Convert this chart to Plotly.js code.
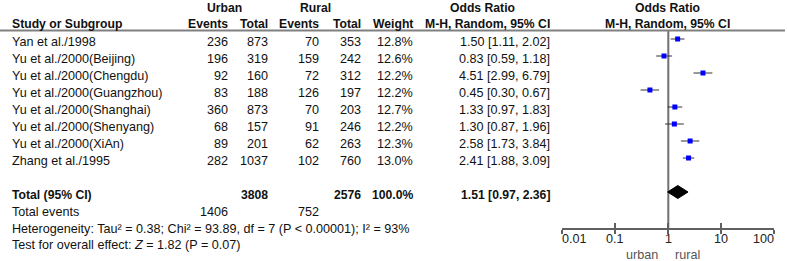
<!DOCTYPE html>
<html>
<head>
<meta charset="utf-8">
<script src="https://cdn.plot.ly/plotly-3.0.1.min.js"></script>
<style>html,body{margin:0;padding:0;background:#fff;}#chart{width:787px;height:261px;}</style>
</head>
<body>
<div id="chart"></div>
<script>
// ---- data ----
var studies = ["Yan et al./1998","Yu et al./2000(Beijing)","Yu et al./2000(Chengdu)","Yu et al./2000(Guangzhou)","Yu et al./2000(Shanghai)","Yu et al./2000(Shenyang)","Yu et al./2000(XiAn)","Zhang et al./1995"];
var urbanEvents = [236,196,92,83,360,68,89,282];
var urbanTotal = [873,319,160,188,873,157,201,1037];
var ruralEvents = [70,159,72,126,70,91,62,102];
var ruralTotal = [353,242,312,197,203,246,263,760];
var weights = [12.8,12.6,12.2,12.2,12.7,12.2,12.3,13.0];
var oddsRatio = [1.50,0.83,4.51,0.45,1.33,1.30,2.58,2.41];
var ciLow = [1.11,0.59,2.99,0.30,0.97,0.87,1.73,1.88];
var ciHigh = [2.02,1.18,6.79,0.67,1.83,1.96,3.84,3.09];
var totalUrban = 3808, totalRural = 2576, totalWeight = 100.0;
var pooledOR = 1.51, pooledLow = 0.97, pooledHigh = 2.36;
var eventsUrban = 1406, eventsRural = 752;
var tickVals = [0.01,0.1,1,10,100];
var tickLabels = ["0.01","0.1","1","10","100"];
var heterogeneityText = "Heterogeneity: Tau² = 0.38; Chi² = 93.89, df = 7 (P < 0.00001); I² = 93%";
var overallText = "Test for overall effect: <i>Z</i> = 1.82 (P = 0.07)";

// ---- layout helpers ----
var W = 787, H = 261;
var FONT = "Liberation Sans, Arial, sans-serif";
var FS = 12.6, FSB = 12.2;
var rowTop = 39, rowStep = 17, totalRow = 9;
function px(x){ return x / W; }
function py(y){ return 1 - y / H; }
function rowPx(i){ return rowTop + rowStep * i + 3; }

var ann = [];
function txt(t, x, y, anchor, bold, color){
  ann.push({text: bold ? "<b>" + t + "</b>" : t, x: px(x), y: py(y), xref: "paper", yref: "paper",
    xanchor: anchor, yanchor: "middle", showarrow: false, borderpad: 0, borderwidth: 0,
    font: {family: FONT, size: bold ? FSB : FS, color: color || "#111"}});
}

// headers
txt("Urban", 225, 7.5, "center", true);
txt("Rural", 315, 7.5, "center", true);
txt("Odds Ratio", 482, 7.5, "center", true);
txt("Odds Ratio", 667, 7.5, "center", true);
txt("Study or Subgroup", 12, 24, "left", true);
txt("Events", 228, 24, "right", true);
txt("Total", 268, 24, "right", true);
txt("Events", 319, 24, "right", true);
txt("Total", 361, 24, "right", true);
txt("Weight", 413, 24, "right", true);
txt("M-H, Random, 95% CI", 550, 24, "right", true);
txt("M-H, Random, 95% CI", 667, 24, "center", true);

// study rows
for (var i = 0; i < studies.length; i++){
  var y = rowPx(i);
  txt(studies[i], 12, y, "left");
  txt(String(urbanEvents[i]), 228, y, "right");
  txt(String(urbanTotal[i]), 268, y, "right");
  txt(String(ruralEvents[i]), 319, y, "right");
  txt(String(ruralTotal[i]), 361, y, "right");
  txt(weights[i].toFixed(1) + "%", 413, y, "right");
  txt(oddsRatio[i].toFixed(2) + " [" + ciLow[i].toFixed(2) + ", " + ciHigh[i].toFixed(2) + "]", 550, y, "right");
}
// totals
var ty = rowPx(totalRow);
txt("Total (95% CI)", 12, ty, "left", true);
txt(String(totalUrban), 268, ty, "right", true);
txt(String(totalRural), 361, ty, "right", true);
txt(totalWeight.toFixed(1) + "%", 413, ty, "right", true);
txt(pooledOR.toFixed(2) + " [" + pooledLow.toFixed(2) + ", " + pooledHigh.toFixed(2) + "]", 550, ty, "right", true);
txt("Total events", 12, 212, "left");
txt(String(eventsUrban), 228, 212, "right");
txt(String(eventsRural), 319, 212, "right");
txt(heterogeneityText, 12, 228.5, "left");
txt(overallText, 12, 245, "left");
txt("urban", 642, 255, "center", false, "#555");
txt("rural", 687, 255, "center", false, "#555");

// axis tick labels: end labels kept inside the axis span
for (var t = 0; t < tickVals.length; t++){
  ann.push({text: tickLabels[t], x: Math.log10(tickVals[t]), xref: "x", y: py(239), yref: "paper",
    xanchor: t === 0 ? "left" : (t === tickVals.length - 1 ? "right" : "center"), yanchor: "middle",
    showarrow: false, borderpad: 0, borderwidth: 0,
    font: {family: FONT, size: FS, color: "#222"}});
}

// ---- traces ----
var rows = studies.map(function(_, i){ return i; });
var ciX = [], ciY = [];
for (var k = 0; k < rows.length; k++){ ciX.push(ciLow[k], ciHigh[k], null); ciY.push(rows[k], rows[k], null); }

var yTop = (30 - rowTop) / rowStep, yBot = (228 - rowTop) / rowStep;
var dh = 6.5 / rowStep;

var traces = [
  {type: "scatter", mode: "lines", x: [1, 1], y: [yTop, yBot], line: {color: "#707070", width: 2}, hoverinfo: "skip", cliponaxis: false},
  {type: "scatter", mode: "lines", x: ciX, y: ciY, line: {color: "#333", width: 1}, hoverinfo: "skip", cliponaxis: false},
  {type: "scatter", mode: "markers", x: oddsRatio, y: rows, marker: {symbol: "square", size: 5, color: "#0000ff"}, hoverinfo: "skip", cliponaxis: false},
  {type: "scatter", mode: "lines", fill: "toself", fillcolor: "#000",
    x: [pooledLow, pooledOR, pooledHigh, pooledOR, pooledLow],
    y: [totalRow, totalRow - dh, totalRow, totalRow + dh, totalRow],
    line: {color: "#000", width: 1}, hoverinfo: "skip", cliponaxis: false},
  {type: "scatter", mode: "markers", x: [1], y: [0], xaxis: "x2", marker: {opacity: 0}, hoverinfo: "skip"}
];

var xDomain = [px(562.3), px(774.3)];
var layout = {
  width: W, height: H, margin: {l: 0, r: 0, t: 0, b: 0},
  paper_bgcolor: "#fff", plot_bgcolor: "rgba(0,0,0,0)", showlegend: false,
  xaxis: {type: "log", range: [-2, 2], domain: xDomain, anchor: "y",
    showgrid: false, zeroline: false, showline: true, linecolor: "#606060", linewidth: 2,
    ticks: "outside", ticklen: 4, tickwidth: 2, tickcolor: "#606060",
    tickvals: tickVals, showticklabels: false},
  xaxis2: {type: "log", range: [-2, 2], domain: xDomain, anchor: "y", overlaying: "x",
    showgrid: false, zeroline: false, showline: false,
    ticks: "inside", ticklen: 5, tickwidth: 2, tickcolor: "#606060",
    tickvals: tickVals, showticklabels: false},
  yaxis: {domain: [py(228), py(30)], range: [yBot, yTop], visible: false, showgrid: false, zeroline: false},
  shapes: [
    {type: "line", xref: "paper", yref: "paper", x0: 0, x1: px(785), y0: py(30.5), y1: py(30.5), line: {color: "#808080", width: 2}}
  ],
  annotations: ann
};

Plotly.newPlot("chart", traces, layout, {staticPlot: true, displayModeBar: false});
</script>
</body>
</html>
